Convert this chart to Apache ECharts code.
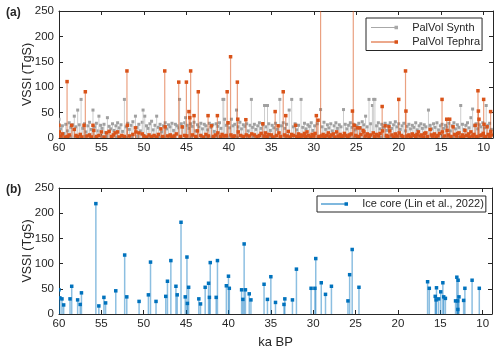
<!DOCTYPE html>
<html>
<head>
<meta charset="utf-8">
<script src="https://cdn.jsdelivr.net/npm/echarts@6/dist/echarts.min.js"></script>
<style>html,body{margin:0;padding:0;background:#fff}#c{width:500px;height:353px}</style>
</head>
<body>
<div id="c"></div>
<script>
// ---- DATA ----
const xTickValues = [60, 55, 50, 45, 40, 35, 30, 25, 20, 15, 10];
const xRange = [8.9, 60];
const yRange = [0, 250];

// PalVol Synth [ka BP, VSSI TgS]
const synthEvents = [
[60.0,37],[59.8,18],[59.6,24],[59.4,9],[59.2,27],[59.0,14],[58.8,30],[58.6,21],[58.4,26],[58.2,43],[58.0,22],[57.8,55],[57.6,26],[57.4,76],[57.2,19],[57.0,28],[56.8,12],[56.6,24],[56.4,31],[56.2,17],[56.0,55],[55.8,22],[55.6,29],[55.4,14],[55.3,43],[55.1,25],[54.9,19],[54.7,27],[54.5,11],[54.3,40],[54.1,23],[53.9,18],[53.7,28],[53.5,15],[53.3,24],[53.1,30],[52.9,20],[52.7,26],[52.5,13],[52.3,76],[52.1,22],[51.9,29],[51.7,17],[51.5,25],[51.3,32],[51.0,43],[50.8,21],[50.6,27],[50.4,14],[50.2,31],[50.1,55],[49.9,43],[49.7,24],[49.5,19],[49.3,28],[49.1,33],[48.9,16],[48.7,25],[48.5,43],[48.3,21],[48.1,27],[47.9,12],[47.7,24],[47.5,30],[47.3,18],[47.1,26],[46.9,22],[46.7,29],[46.5,15],[46.3,27],[46.1,24],[45.9,20],[45.8,76],[45.6,28],[45.4,21],[45.2,30],[45.1,40],[44.9,25],[44.7,19],[44.5,28],[44.3,23],[44.1,31],[43.9,14],[43.7,26],[43.5,22],[43.3,29],[43.1,18],[42.9,27],[42.7,24],[42.5,16],[42.3,29],[42.1,21],[41.9,26],[41.7,13],[41.5,28],[41.3,23],[41.1,30],[40.9,19],[40.7,76],[40.6,76],[40.5,37],[40.3,25],[40.1,29],[39.9,20],[39.7,37],[39.5,24],[39.3,27],[39.1,55],[38.9,22],[38.7,31],[38.5,18],[38.3,26],[38.1,23],[37.9,28],[37.7,14],[37.5,25],[37.35,76],[37.2,21],[37.0,27],[36.8,17],[36.6,24],[36.4,30],[36.2,19],[36.0,26],[35.8,64],[35.6,22],[35.45,64],[35.3,28],[35.1,15],[34.9,25],[34.7,20],[34.5,29],[34.3,17],[34.0,76],[33.8,24],[33.6,30],[33.4,19],[33.2,27],[32.9,55],[32.6,76],[32.4,22],[32.2,28],[32.0,16],[31.8,25],[31.5,76],[31.3,21],[31.1,29],[30.9,18],[30.7,26],[30.5,23],[30.3,30],[30.1,15],[29.9,24],[29.6,28],[29.2,56],[29.0,22],[28.8,31],[28.6,17],[28.4,26],[28.2,20],[28.0,28],[27.8,14],[27.6,24],[27.4,30],[27.2,19],[27.0,26],[26.8,22],[26.5,56],[26.3,27],[26.1,18],[25.9,25],[25.7,30],[25.5,21],[25.3,27],[25.1,16],[24.9,24],[24.7,29],[24.5,20],[24.3,32],[24.1,26],[23.9,43],[23.7,22],[23.5,76],[23.3,28],[23.1,64],[22.95,76],[22.8,76],[22.6,24],[22.4,30],[22.2,18],[22.0,27],[21.8,21],[21.6,29],[21.4,15],[21.2,25],[21.0,30],[20.8,19],[20.6,26],[20.4,32],[20.2,22],[20.0,28],[19.8,17],[19.6,24],[19.4,29],[19.2,14],[19.0,23],[18.8,27],[18.6,18],[18.4,25],[18.2,21],[18.0,30],[17.8,16],[17.6,24],[17.4,28],[17.2,19],[17.0,26],[16.8,22],[16.5,55],[16.3,25],[16.1,18],[15.9,28],[15.7,21],[15.5,30],[15.3,16],[15.1,24],[14.9,27],[14.7,19],[14.5,25],[14.3,22],[14.1,29],[13.9,14],[13.7,24],[13.5,30],[13.3,18],[13.1,26],[12.9,21],[12.7,64],[12.5,27],[12.3,17],[12.1,25],[11.9,30],[11.7,20],[11.5,40],[11.3,57],[11.1,24],[10.9,28],[10.7,18],[10.5,26],[10.3,22],[10.1,30],[9.9,20],[9.7,64],[9.5,25],[9.3,29],[9.1,17],
[59.7,2],[59.1,1],[58.7,3],[58.1,2],[57.5,1],[56.9,3],[56.3,2],[55.7,1],[55.0,2],[54.4,3],[53.8,1],[53.2,2],[52.6,3],[52.0,1],[51.4,2],[50.7,3],[50.0,1],[49.4,2],[48.8,3],[48.2,1],[47.6,2],[47.0,3],[46.4,1],[45.7,2],[45.0,3],[44.4,1],[43.8,2],[43.2,3],[42.6,1],[42.0,2],[41.4,3],[40.8,1],[40.2,2],[39.6,3],[39.0,1],[38.4,2],[37.8,3],[37.1,1],[36.5,2],[35.9,3],[35.2,1],[34.6,2],[33.9,3],[33.3,1],[32.7,2],[32.1,3],[31.4,1],[30.8,2],[30.2,3],[29.5,1],[28.9,2],[28.3,3],[27.7,1],[27.1,2],[26.4,3],[25.8,1],[25.2,2],[24.6,3],[24.0,1],[23.4,2],[22.7,3],[22.1,1],[21.5,2],[20.9,3],[20.3,1],[19.7,2],[19.1,3],[18.5,1],[17.9,2],[17.3,3],[16.7,1],[16.0,2],[15.4,3],[14.8,1],[14.2,2],[13.6,3],[13.0,1],[12.4,2],[11.8,3],[11.2,1],[10.6,2],[10.0,3],[9.4,1]
];

// PalVol Tephra [ka BP, VSSI TgS]
const tephraEvents = [
[60.0,25],[59.95,12],[59.8,4],[59.6,8],[59.3,2],[59.05,111],[59.0,3],[58.8,6],[58.5,25],[58.2,17],[58.0,5],[57.8,3],[57.5,7],[57.3,2],[57.05,25],[56.9,91],[56.7,4],[56.4,6],[56.2,2],[56.0,25],[55.9,15],[55.6,3],[55.3,5],[55.0,12],[54.7,2],[54.4,10],[54.1,13],[53.8,3],[53.6,6],[53.4,10],[53.1,12],[52.9,2],[52.6,5],[52.3,3],[52.0,132],[51.95,25],[51.7,4],[51.3,7],[51.0,20],[50.95,12],[50.6,10],[50.2,8],[50.0,4],[49.7,2],[49.4,6],[49.1,3],[48.8,5],[48.5,2],[48.3,7],[48.0,18],[47.8,3],[47.55,132],[47.5,22],[47.2,4],[46.9,6],[46.7,2],[46.45,4],[46.2,8],[45.9,110],[45.7,3],[45.5,22],[45.2,5],[45.0,110],[44.95,4],[44.7,52],[44.6,40],[44.5,132],[44.3,6],[44.1,44],[43.9,3],[43.7,14],[43.6,91],[43.3,5],[43.0,2],[42.7,7],[42.45,44],[42.4,4],[42.05,24],[41.8,3],[41.6,6],[41.35,44],[41.3,10],[41.0,3],[40.8,7],[40.55,4],[40.3,5],[40.2,91],[40.1,30],[39.8,160],[39.75,6],[39.5,3],[39.3,4],[39.0,110],[38.95,37],[38.9,12],[38.6,5],[38.3,3],[38.0,36],[37.95,6],[37.6,4],[37.3,8],[37.0,6],[36.7,3],[36.4,5],[36.2,9],[36.0,28],
[35.85,4],[35.7,10],[35.5,3],[35.3,7],[35.0,6],[34.8,2],[34.55,52],[34.4,5],[34.2,24],[34.1,10],[33.9,3],[33.6,91],[33.45,6],[33.3,44],[33.15,4],[33.0,13],[32.8,2],[32.6,7],[32.4,5],[32.15,25],[32.0,3],[31.8,8],[31.65,2],[31.5,6],[31.3,4],[31.1,9],[30.95,3],[30.8,12],[30.6,5],[30.4,2],[30.2,7],[30.0,4],[29.85,9],[29.7,44],[29.5,35],[29.4,3],[29.2,420],[29.1,4],[28.9,7],[28.7,2],[28.5,5],[28.3,10],[28.1,3],[27.9,6],[27.7,8],[27.5,2],[27.3,12],[27.1,4],[26.9,7],[26.75,3],[26.6,4],[26.4,9],[26.2,5],[26.0,2],[25.8,6],[25.6,8],[25.45,53],[25.35,420],[25.2,25],[25.05,5],[24.9,20],[24.75,3],[24.6,20],[24.45,7],[24.2,15],[24.1,12],[23.9,4],[23.7,8],[23.5,2],[23.3,6],[23.0,10],[22.85,3],[22.6,7],[22.4,4],[22.2,9],[21.95,62],[21.9,14],[21.6,24],[21.45,5],[21.3,3],[21.15,22],[21.05,14],[20.8,6],[20.6,2],[20.4,8],[20.2,4],[20.0,76],[19.95,10],[19.7,5],[19.5,3],[19.2,132],[19.15,53],[19.0,4],[18.8,6],[18.6,2],[18.4,8],[18.2,5],[18.0,3],[17.85,7],[17.7,12],[17.5,4],[17.3,6],[17.1,2],[16.95,9],[16.8,10],[16.6,3],[16.3,17],[16.15,6],[16.0,4],[15.8,8],[15.6,2],[15.4,5],[15.2,9],[14.9,76],[14.85,12],[14.6,4],[14.35,37],[14.3,15],[14.15,6],[14.0,37],[13.85,3],[13.6,22],[13.4,7],[13.2,4],[13.05,9],[12.9,10],[12.7,2],[12.5,6],[12.35,3],[12.2,15],[12.0,5],[11.8,8],[11.65,2],[11.5,12],[11.3,4],[11.15,7],[11.0,25],[10.85,3],[10.67,93],[10.62,53],[10.55,37],[10.4,5],[10.2,6],[10.05,9],[10.0,76],[9.95,27],[9.8,3],[9.6,22],[9.45,7],[9.3,4],[9.18,52],[9.15,13],[9.05,6]
];

// Ice core (Lin et al., 2022) [ka BP, VSSI TgS]
const iceCoreEvents = [
[60.0,48],[59.9,32],[59.65,30],[59.45,18],[58.7,30],[58.5,55],[57.8,28],[57.5,19],[57.35,42],[55.65,219],[55.3,16],[54.7,33],[54.5,22],[53.3,46],[52.25,117],[52.0,34],[50.55,25],[49.45,38],[49.2,103],[48.55,25],[47.4,35],[47.2,65],[46.8,106],[46.2,55],[46.05,38],[45.6,182],[45.1,34],[44.9,113],[44.85,21],[44.7,53],[43.5,30],[43.3,20],[42.75,53],[42.35,61],[42.25,33],[42.15,102],[41.45,33],[41.3,106],[40.25,56],[40.0,75],[39.9,51],[38.45,48],[38.3,29],[38.15,139],[38.0,48],
[37.55,40],[37.35,28],[35.8,59],[35.4,29],[35.0,74],[34.45,23],[33.45,19],[33.35,30],[32.45,28],[31.98,89],[30.25,51],[29.8,51],[29.7,110],[29.05,62],[28.55,39],[27.85,55],[25.9,26],[25.7,78],[25.4,128],[24.6,53],
[16.5,64],[16.3,51],[15.6,35],[15.5,28],[15.45,52],[15.2,30],[14.95,44],[14.7,62],[14.6,34],[14.4,31],[13.2,26],[13.05,73],[12.95,26],[12.93,9],[12.9,67],[12.8,34],[12.25,27],[12.1,51],[11.25,67],[10.4,51]
];

// ---- CHART ----
const FONT = '"Liberation Sans", Arial, Helvetica, sans-serif';
const AX = '#262626';

function stemRenderer(stemColor, markColor, lw, ms) {
  return function (params, api) {
    const x = api.value(0), y = api.value(1);
    const p0 = api.coord([x, 0]);
    const p1 = api.coord([x, y]);
    return {
      type: 'group',
      children: [
        { type: 'line', shape: { x1: p0[0], y1: p0[1], x2: p1[0], y2: p1[1] },
          style: { stroke: stemColor, lineWidth: lw } },
        { type: 'rect', shape: { x: p1[0] - ms / 2, y: p1[1] - ms / 2, width: ms, height: ms },
          style: { fill: markColor } }
      ]
    };
  };
}

function xAxisPair(gridIndex, withName) {
  const base = {
    type: 'value', gridIndex: gridIndex, min: xRange[0], max: xRange[1], inverse: true,
    axisLine: { show: true, onZero: false, lineStyle: { color: AX, width: 1 } },
    axisTick: { show: true, inside: true, length: 4, customValues: xTickValues, lineStyle: { color: AX } },
    splitLine: { show: false }
  };
  const bottom = Object.assign({}, base, {
    position: 'bottom',
    axisLabel: { show: true, customValues: xTickValues, color: AX, fontSize: 11.5, fontFamily: FONT, margin: 4 }
  });
  if (withName) {
    Object.assign(bottom, { name: 'ka BP', nameLocation: 'middle', nameGap: 22, nameMoveOverlap: false,
      nameTextStyle: { color: AX, fontSize: 13, fontFamily: FONT } });
  }
  const top = Object.assign({}, base, { position: 'top', axisLabel: { show: false } });
  return [bottom, top];
}

function yAxisPair(gridIndex) {
  const base = {
    type: 'value', gridIndex: gridIndex, min: yRange[0], max: yRange[1], interval: 50,
    axisLine: { show: true, onZero: false, lineStyle: { color: AX, width: 1 } },
    axisTick: { show: true, inside: true, length: 4, lineStyle: { color: AX } },
    splitLine: { show: false }
  };
  const left = Object.assign({}, base, {
    position: 'left',
    axisLabel: { show: true, color: AX, fontSize: 11.5, fontFamily: FONT, margin: 5 },
    name: 'VSSI (TgS)', nameLocation: 'middle', nameGap: 25, nameRotate: 90, nameMoveOverlap: false,
    nameTextStyle: { color: AX, fontSize: 12.5, fontFamily: FONT }
  });
  const right = Object.assign({}, base, { position: 'right', axisLabel: { show: false } });
  return [left, right];
}

const legendIcon = 'path://M0,2.5L27,2.5L27,3.5L0,3.5Z M23.5,1.2L27,1.2L27,4.8L23.5,4.8Z';

const option = {
  animation: false,
  backgroundColor: '#fff',
  textStyle: { fontFamily: FONT },
  title: [
    { text: '(a)', left: 6, top: 7, padding: 0, textStyle: { fontSize: 12, fontWeight: 'bold', color: AX, fontFamily: FONT } },
    { text: '(b)', left: 6, top: 184, padding: 0, textStyle: { fontSize: 12, fontWeight: 'bold', color: AX, fontFamily: FONT } }
  ],
  grid: [
    { left: 59, right: 7, top: 11, height: 127, outerBoundsMode: 'none' },
    { left: 59, right: 8, top: 188, height: 126, outerBoundsMode: 'none' }
  ],
  xAxis: [].concat(xAxisPair(0, false), xAxisPair(1, true)),
  yAxis: [].concat(yAxisPair(0), yAxisPair(1)),
  legend: [
    {
      data: ['PalVol Synth', 'PalVol Tephra'], orient: 'vertical', left: 366, top: 18,
      icon: legendIcon, itemWidth: 27, itemHeight: 5, itemGap: 1.5,
      padding: [3, 2, 2, 5], borderColor: AX, borderWidth: 1, backgroundColor: '#fff',
      formatter: '   {name}',
      textStyle: { fontSize: 11, color: AX, fontFamily: FONT, lineHeight: 13 }
    },
    {
      data: ['Ice core (Lin et al., 2022)'], orient: 'vertical', left: 317, top: 196,
      icon: legendIcon, itemWidth: 27, itemHeight: 5,
      padding: [1, 2, 1, 4], borderColor: AX, borderWidth: 1, backgroundColor: '#fff',
      formatter: '   {name}',
      textStyle: { fontSize: 11, color: AX, fontFamily: FONT, lineHeight: 14 }
    }
  ],
  series: [
    {
      name: 'PalVol Synth', type: 'custom', xAxisIndex: 0, yAxisIndex: 0, clip: true,
      itemStyle: { color: '#a8a8a8' },
      renderItem: stemRenderer('#cdcdcd', '#a0a0a0', 1, 3),
      encode: { x: 0, y: 1 }, data: synthEvents
    },
    {
      name: 'PalVol Tephra', type: 'custom', xAxisIndex: 0, yAxisIndex: 0, clip: true,
      itemStyle: { color: '#d95319' },
      renderItem: stemRenderer('rgba(217,83,25,0.55)', '#d95319', 1.2, 3.5),
      encode: { x: 0, y: 1 }, data: tephraEvents
    },
    {
      name: 'Ice core (Lin et al., 2022)', type: 'custom', xAxisIndex: 2, yAxisIndex: 2, clip: true,
      itemStyle: { color: '#0072bd' },
      renderItem: stemRenderer('rgba(0,114,189,0.45)', '#0072bd', 1.5, 3.5),
      encode: { x: 0, y: 1 }, data: iceCoreEvents
    }
  ]
};

const chart = echarts.init(document.getElementById('c'), null, { renderer: 'canvas' });
chart.setOption(option);
</script>
</body>
</html>
